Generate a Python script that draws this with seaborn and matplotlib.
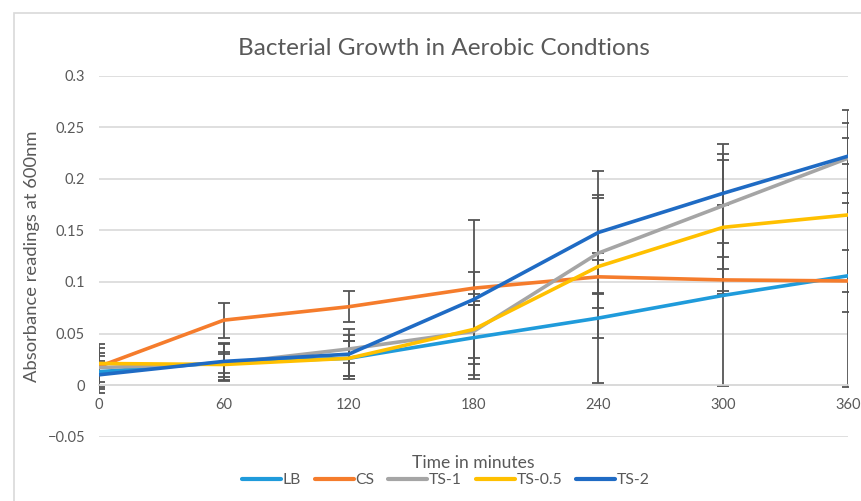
import matplotlib

matplotlib.use("agg")
import matplotlib.pyplot as plt
import matplotlib.patches as patches
import pandas as pd
import seaborn as sns

# data
time_min = [0, 60, 120, 180, 240, 300, 360]
series_names = ["LB", "CS", "TS-1", "TS-0.5", "TS-2"]

lb = [0.013, 0.022, 0.026, 0.046, 0.065, 0.087, 0.106]
cs = [0.018, 0.063, 0.076, 0.094, 0.105, 0.102, 0.101]
ts1 = [0.017, 0.021, 0.035, 0.052, 0.128, 0.174, 0.220]
ts05 = [0.021, 0.020, 0.026, 0.054, 0.115, 0.153, 0.165]
ts2 = [0.010, 0.023, 0.030, 0.083, 0.148, 0.186, 0.222]

lb_err = [0.010, 0.018, 0.017, 0.036, 0.063, 0.088, 0.108]
cs_err = [0.022, 0.017, 0.015, 0.016, 0.016, 0.011, 0.030]
ts1_err = [0.019, 0.009, 0.014, 0.026, 0.053, 0.050, 0.034]
ts05_err = [0.010, 0.012, 0.017, 0.034, 0.069, 0.065, 0.075]
ts2_err = [0.018, 0.018, 0.024, 0.077, 0.060, 0.048, 0.045]

y_ticks = [-0.05, 0, 0.05, 0.1, 0.15, 0.2, 0.25, 0.3]
y_tick_labels = ["\u22120.05", "0", "0.05", "0.1", "0.15", "0.2", "0.25", "0.3"]
x_ticks = [0, 60, 120, 180, 240, 300, 360]

colors = {
    "LB": "#1F9BDB",
    "CS": "#F57C2C",
    "TS-1": "#A5A5A5",
    "TS-0.5": "#FFC000",
    "TS-2": "#1F6BC4",
}

# long-form table for seaborn
values = [lb, cs, ts1, ts05, ts2]
errors = [lb_err, cs_err, ts1_err, ts05_err, ts2_err]
rows = []
for name, vals, errs in zip(series_names, values, errors):
    for t, v, e in zip(time_min, vals, errs):
        rows.append({"time": t, "value": v, "err": e, "series": name})
df = pd.DataFrame(rows)

# plot setup
sns.set_style("white")
plt.rcParams["font.family"] = ["Lato", "DejaVu Sans"]
text_grey = "#595959"
grid_grey = "#D9D9D9"

fig = plt.figure(figsize=(8.62, 5.01), dpi=100)
ax = fig.add_axes([99 / 862, 1 - 436.7 / 501, 749 / 862, 361 / 501])

# error bars sit under the lines
for name in series_names:
    sub = df[df["series"] == name]
    ax.errorbar(
        sub["time"],
        sub["value"],
        yerr=sub["err"],
        fmt="none",
        ecolor="#555555",
        elinewidth=1.3,
        capsize=4,
        capthick=1.3,
        zorder=2,
    )

sns.lineplot(
    data=df,
    x="time",
    y="value",
    hue="series",
    hue_order=series_names,
    palette=colors,
    linewidth=2.6,
    ax=ax,
    zorder=3,
)

# axes styling
ax.set_xlim(0, 360)
ax.set_ylim(-0.05, 0.3)
ax.set_yticks(y_ticks)
ax.set_yticklabels(y_tick_labels)
ax.set_xticks(x_ticks)
ax.yaxis.grid(True, color=grid_grey, linewidth=1.2)
ax.xaxis.grid(False)
ax.set_axisbelow(True)
for side in ["top", "right", "left"]:
    ax.spines[side].set_visible(False)
ax.spines["bottom"].set_position(("data", 0))
ax.spines["bottom"].set_color(grid_grey)
ax.spines["bottom"].set_linewidth(1.2)
ax.tick_params(axis="both", length=0, labelsize=10.5, labelcolor=text_grey)
ax.tick_params(axis="x", pad=9)
ax.tick_params(axis="y", pad=10)

ax.set_title(
    "Bacterial Growth in Aerobic Condtions",
    fontsize=17.5,
    color=text_grey,
    pad=15,
    x=0.4606,
)
ax.set_ylabel("Absorbance readings at 600nm", fontsize=13.2, color=text_grey, labelpad=5.5)
ax.set_xlabel("Time in minutes", fontsize=12.6, color=text_grey)
ax.xaxis.set_label_coords(0.5, -0.05)

# legend along the bottom
handles, labels = ax.get_legend_handles_labels()
ax.legend(
    handles,
    labels,
    loc="center",
    bbox_to_anchor=(0.463, -0.12),
    ncol=5,
    frameon=False,
    fontsize=11.3,
    handlelength=2.48,
    handletextpad=0.1,
    columnspacing=0.9,
    labelcolor=text_grey,
)
for line in ax.get_legend().get_lines():
    line.set_linewidth(3)

# chart border like the spreadsheet frame
fig.patches.append(
    patches.Rectangle(
        (14 / 862, -0.1),
        1.2,
        1.1 - 13 / 501,
        transform=fig.transFigure,
        fill=False,
        edgecolor=grid_grey,
        linewidth=1.2,
    )
)

fig.savefig("out.png", dpi=100)
